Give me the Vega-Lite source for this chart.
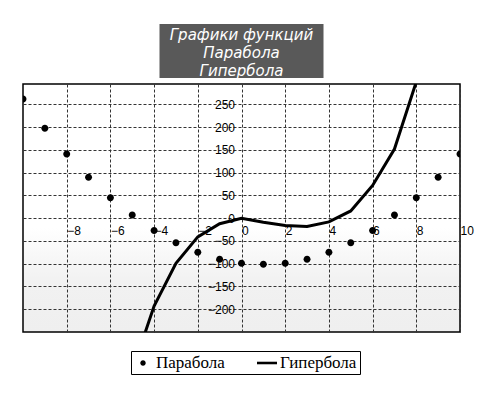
{
  "$schema": "https://vega.github.io/schema/vega-lite/v6.json",
  "background": "white",
  "padding": {"left": 22, "top": 24, "right": 0, "bottom": 0},
  "datasets": {
    "parabola": [
      {"x": -10, "y": 262, "series": "Парабола"},
      {"x": -9, "y": 198, "series": "Парабола"},
      {"x": -8, "y": 141, "series": "Парабола"},
      {"x": -7, "y": 90, "series": "Парабола"},
      {"x": -6, "y": 45, "series": "Парабола"},
      {"x": -5, "y": 7, "series": "Парабола"},
      {"x": -4, "y": -27, "series": "Парабола"},
      {"x": -3, "y": -54, "series": "Парабола"},
      {"x": -2, "y": -75, "series": "Парабола"},
      {"x": -1, "y": -90, "series": "Парабола"},
      {"x": 0, "y": -99, "series": "Парабола"},
      {"x": 1, "y": -101, "series": "Парабола"},
      {"x": 2, "y": -99, "series": "Парабола"},
      {"x": 3, "y": -90, "series": "Парабола"},
      {"x": 4, "y": -75, "series": "Парабола"},
      {"x": 5, "y": -54, "series": "Парабола"},
      {"x": 6, "y": -27, "series": "Парабола"},
      {"x": 7, "y": 7, "series": "Парабола"},
      {"x": 8, "y": 45, "series": "Парабола"},
      {"x": 9, "y": 90, "series": "Парабола"},
      {"x": 10, "y": 141, "series": "Парабола"}
    ],
    "hyperbola": [
      {"x": -5, "y": -335, "series": "Гипербола"},
      {"x": -4, "y": -193, "series": "Гипербола"},
      {"x": -3, "y": -99, "series": "Гипербола"},
      {"x": -2, "y": -41, "series": "Гипербола"},
      {"x": -1, "y": -12, "series": "Гипербола"},
      {"x": 0, "y": 0, "series": "Гипербола"},
      {"x": 1, "y": -9, "series": "Гипербола"},
      {"x": 2, "y": -16, "series": "Гипербола"},
      {"x": 3, "y": -18, "series": "Гипербола"},
      {"x": 4, "y": -8, "series": "Гипербола"},
      {"x": 5, "y": 16, "series": "Гипербола"},
      {"x": 6, "y": 72, "series": "Гипербола"},
      {"x": 7, "y": 152, "series": "Гипербола"},
      {"x": 8, "y": 300, "series": "Гипербола"}
    ],
    "title": [
      {"text": "Графики функций\nПарабола\nГипербола"}
    ]
  },
  "vconcat": [
    {
      "width": 164,
      "height": 54,
      "view": {"fill": "#595959", "stroke": null},
      "data": {"name": "title"},
      "mark": {
        "type": "text",
        "lineBreak": "\n",
        "font": "DejaVu Sans",
        "fontStyle": "italic",
        "fontSize": 15,
        "lineHeight": 18,
        "color": "white",
        "align": "center",
        "baseline": "middle",
        "dy": -16
      },
      "encoding": {"text": {"field": "text"}}
    },
    {
      "width": 437,
      "height": 248,
      "view": {
        "stroke": "black",
        "strokeWidth": 1.5,
        "fill": {
          "gradient": "linear",
          "x1": 0, "y1": 0, "x2": 0, "y2": 1,
          "stops": [
            {"offset": 0, "color": "#ffffff"},
            {"offset": 0.58, "color": "#ffffff"},
            {"offset": 0.8, "color": "#f1f1f1"},
            {"offset": 1, "color": "#efefef"}
          ]
        }
      },
      "encoding": {
        "x": {
          "field": "x",
          "type": "quantitative",
          "scale": {"domain": [-10, 10], "nice": false, "zero": false},
          "axis": {
            "values": [-8, -6, -4, -2, 0, 2, 4, 6, 8, 10],
            "offset": -113.8,
            "domain": false,
            "ticks": false,
            "grid": true,
            "gridDash": [3, 2],
            "gridColor": "#333333",
            "gridOpacity": 1,
            "labelAlign": "left",
            "labelDx": 1,
            "labelPadding": 7,
            "labelFlush": false,
            "labelOverlap": false,
            "labelFont": "Liberation Sans",
            "labelFontSize": 12,
            "labelColor": "black",
            "title": null
          }
        },
        "y": {
          "field": "y",
          "type": "quantitative",
          "scale": {"domain": [-250, 295], "nice": false, "zero": false},
          "axis": {
            "values": [-200, -150, -100, -50, 0, 50, 100, 150, 200, 250],
            "offset": -218.5,
            "domain": false,
            "ticks": false,
            "grid": true,
            "gridDash": [3, 2],
            "gridColor": "#333333",
            "gridOpacity": 1,
            "labelPadding": 7,
            "labelFlush": false,
            "labelOverlap": false,
            "labelFont": "Liberation Sans",
            "labelFontSize": 12,
            "labelColor": "black",
            "title": null
          }
        }
      },
      "layer": [
        {
          "mark": {"type": "rule", "color": "black", "strokeWidth": 2.5},
          "encoding": {"x": {"datum": 0}, "y": {"datum": -250}, "y2": {"datum": 250}}
        },
        {
          "mark": {"type": "rule", "color": "black", "strokeWidth": 2.5},
          "encoding": {"y": {"datum": 0}}
        },
        {
          "data": {"name": "hyperbola"},
          "mark": {"type": "line", "color": "black", "strokeWidth": 3, "clip": true}
        },
        {
          "data": {"name": "parabola"},
          "mark": {"type": "point", "filled": true, "color": "black", "opacity": 1, "size": 424, "clip": true},
          "encoding": {
            "shape": {
              "field": "series",
              "type": "nominal",
              "scale": {
                "domain": ["Парабола", "Гипербола"],
                "range": ["M0.34,0A0.34,0.34,0,1,1,-0.34,0A0.34,0.34,0,1,1,0.34,0Z", "M-1.25,-0.16H1.25V0.16H-1.25Z"]
              },
              "legend": {
                "orient": "none",
                "legendX": 108,
                "legendY": 327,
                "direction": "horizontal",
                "title": null,
                "symbolSize": 256,
                "symbolFillColor": "black",
                "symbolOpacity": 1,
                "labelFont": "Liberation Serif",
                "labelFontSize": 17,
                "labelColor": "black",
                "labelOffset": 4,
                "columnPadding": 29,
                "padding": 3,
                "strokeColor": "black",
                "fillColor": "white"
              }
            }
          }
        }
      ]
    }
  ],
  "spacing": 6,
  "center": true,
  "bounds": "flush",
  "config": {"view": {"stroke": null}}
}
